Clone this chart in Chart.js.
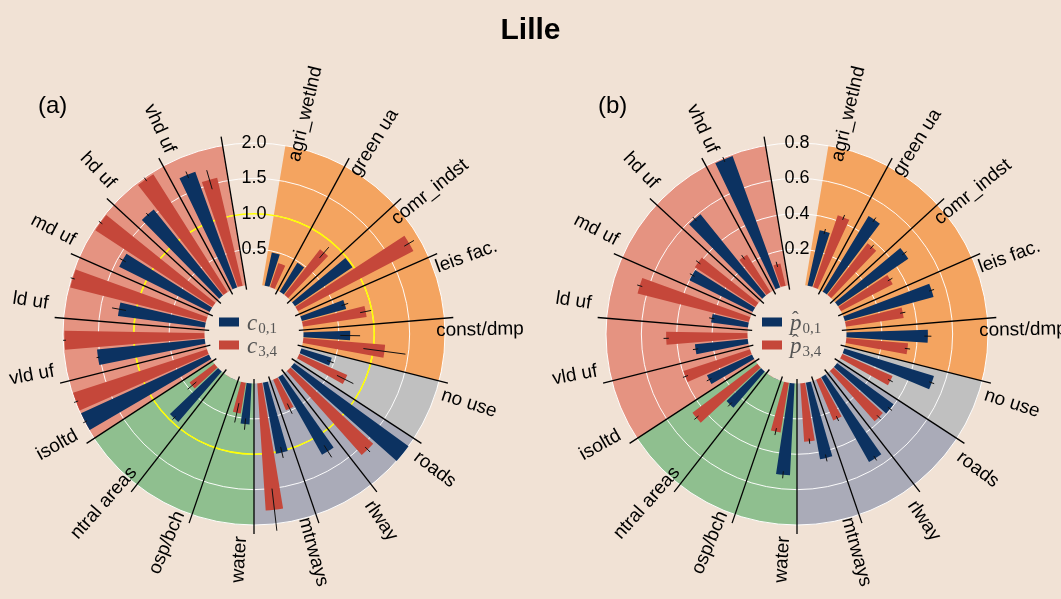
<!DOCTYPE html>
<html>
<head>
<meta charset="utf-8">
<script src="https://cdn.jsdelivr.net/npm/chart.js@4.4.1/dist/chart.umd.min.js"></script>
<style>
  html, body { margin: 0; padding: 0; background: #f1e2d5; }
  #wrap { position: relative; width: 1061px; height: 599px; overflow: hidden;
          font-family: "Liberation Sans", Arial, sans-serif; }
  #wrap canvas { position: absolute; left: 0; top: 0; }
  #title { position: absolute; left: 0; width: 1061px; top: 12px; text-align: center;
           font-weight: bold; font-size: 30px; }
  .tag { position: absolute; top: 91px; font-size: 24px; }
</style>
</head>
<body>
<div id="wrap">
  <canvas id="chartA" width="1061" height="599"></canvas>
  <canvas id="chartB" width="1061" height="599"></canvas>
  <div id="title">Lille</div>
  <div class="tag" style="left:38px">(a)</div>
  <div class="tag" style="left:598px">(b)</div>
</div>
<script>
// categories, clockwise from the top
const categories = ['agri_wetlnd', 'green ua', 'comr_indst', 'leis fac.', 'const/dmp', 'no use',
  'roads', 'rlway', 'mtrways', 'water', 'osp/bch', 'ntral areas', 'isoltd', 'vld uf',
  'ld uf', 'md uf', 'hd uf', 'vhd uf'];
const sectorGroups = ['other', 'other', 'other', 'other', 'other', 'nouse',
  'transport', 'transport', 'transport', 'natural', 'natural', 'natural',
  'urban', 'urban', 'urban', 'urban', 'urban', 'urban'];

// panel (a)
const c01 = [0.48, 0.48, 0.98, 0.65, 0.66, 0.45, 2.0, 1.26, 1.02, 0.58, 0, 0.94, 1.99, 1.53, 1.24, 1.43, 1.56, 1.74];
const c34 = [0.36, 0.82, 1.84, 0.91, 1.16, 0.74, 1.59, 0.47, 1.80, 0.44, 0, 0.44, 1.99, 1.98, 1.98, 1.98, 1.97, 1.57];
const c01Err = [0, 0, 0, 0.05, 0.14, 0.05, 0, 0.1, 0.08, 0.08, 0, 0.03, 0.03, 0.02, 0.1, 0.05, 0.03, 0.05];
const c34Err = [0, 0.1, 0.08, 0.08, 0.3, 0.13, 0.05, 0.08, 0.3, 0.14, 0, 0.08, 0.03, 0.02, 0.03, 0.03, 0.03, 0.14];
const ticksA = ['0.5', '1.0', '1.5', '2.0'];

// panel (b)
const p01 = [0.32, 0.50, 0.48, 0.52, 0.46, 0.53, 0.395, 0.55, 0.44, 0.52, 0, 0.27, 0.28, 0.30, 0.21, 0.40, 0.59, 0.79];
const p34 = [0.43, 0.37, 0.33, 0.33, 0.35, 0.31, 0.38, 0.25, 0.33, 0.285, 0, 0.46, 0.395, 0.46, 0.65, 0.41, 0.25, 0.13];
const p01Err = [0.015, 0.015, 0.015, 0.015, 0.02, 0.015, 0.015, 0.015, 0.02, 0.02, 0, 0.015, 0.015, 0.015, 0.015, 0.015, 0.015, 0.015];
const p34Err = [0.015, 0.015, 0.015, 0.015, 0.015, 0.015, 0.015, 0.015, 0.015, 0.02, 0, 0.015, 0.015, 0.015, 0.015, 0.015, 0.015, 0.015];
const ticksB = ['0.2', '0.4', '0.6', '0.8'];

const BLUE = '#0c3261';
const RED = '#c5473a';
const BG = '#f1e2d5';
const groupColors = {
  other: '#f4a460',
  nouse: '#c0c0c0',
  transport: '#aaabb8',
  natural: '#8fbf8f',
  urban: '#e59381'
};
const NONE = 'rgba(0,0,0,0)';
const S = 360 / (categories.length + 1);   // one empty slot at the top
const deg = Math.PI / 180;
const FONT = '"Liberation Sans", Arial, sans-serif';

// each slot -> [gap, bar, gap] arcs with their own angle
function barArcs(values, start, width, rMin) {
  const d = { data: [rMin], angles: [S / 2], show: [false] };
  values.forEach(v => {
    d.data.push(rMin, v, rMin);
    d.angles.push(start * S, width * S, (1 - start - width) * S);
    d.show.push(false, true, false);
  });
  d.data.push(rMin); d.angles.push(S / 2); d.show.push(false);
  return d;
}

function panel(canvasId, cx, rMin, rMax, s01, s34, e01, e34, ticks, legend, refValue) {
  const blue = barArcs(s01, 0.15, 0.30, rMin);
  const red = barArcs(s34, 0.50, 0.30, rMin);
  const bg = { data: [rMin], angles: [S / 2], colors: [NONE] };
  categories.forEach((c, i) => {
    bg.data.push(rMax); bg.angles.push(S); bg.colors.push(groupColors[sectorGroups[i]]);
  });
  bg.data.push(rMin); bg.angles.push(S / 2); bg.colors.push(NONE);

  const decor = {
    id: 'decor',
    afterDatasetDraw(chart, args) {
      if (args.index !== 2) return;
      const sc = chart.scales.r, ctx = chart.ctx;
      ctx.save();
      ctx.strokeStyle = 'rgba(255,255,255,0.95)';
      ctx.lineWidth = 1;
      ticks.forEach(t => {
        ctx.beginPath();
        ctx.arc(sc.xCenter, sc.yCenter, sc.getDistanceFromCenterForValue(parseFloat(t)), 0, 2 * Math.PI);
        ctx.stroke();
      });
      if (refValue !== null) {
        ctx.strokeStyle = '#ffff00';
        ctx.lineWidth = 1.6;
        ctx.beginPath();
        ctx.arc(sc.xCenter, sc.yCenter, sc.getDistanceFromCenterForValue(refValue), 0, 2 * Math.PI);
        ctx.stroke();
      }
      ctx.restore();
    },
    afterDatasetsDraw(chart) {
      const sc = chart.scales.r, ctx = chart.ctx;
      const xc = sc.xCenter, yc = sc.yCenter;
      const pt = (phi, r) => [xc + r * Math.cos((phi - 90) * deg), yc + r * Math.sin((phi - 90) * deg)];
      ctx.save();
      // hole
      ctx.fillStyle = BG;
      ctx.beginPath();
      ctx.arc(xc, yc, sc.getDistanceFromCenterForValue(0), 0, 2 * Math.PI);
      ctx.fill();

      // error bars
      ctx.strokeStyle = '#111';
      ctx.lineWidth = 1;
      const errs = (vals, err, offset) => vals.forEach((v, i) => {
        if (!err[i]) return;
        const phi = S / 2 + i * S + offset * S;
        const a = pt(phi, sc.getDistanceFromCenterForValue(Math.max(0, v - err[i])));
        const b = pt(phi, sc.getDistanceFromCenterForValue(v + err[i]));
        ctx.beginPath(); ctx.moveTo(a[0], a[1]); ctx.lineTo(b[0], b[1]); ctx.stroke();
      });
      errs(s01, e01, 0.30);
      errs(s34, e34, 0.65);

      // category lines
      ctx.strokeStyle = '#000';
      ctx.lineWidth = 1.3;
      const lines = [-S / 2];
      for (let i = 1; i < categories.length; i++) lines.push(S / 2 + i * S);
      lines.forEach(phi => {
        const a = pt(phi, 45), b = pt(phi, 200);
        ctx.beginPath(); ctx.moveTo(a[0], a[1]); ctx.lineTo(b[0], b[1]); ctx.stroke();
      });

      // category labels
      ctx.fillStyle = '#000';
      ctx.font = '19px ' + FONT;
      ctx.textAlign = 'center';
      ctx.textBaseline = 'middle';
      categories.forEach((c, i) => {
        const phi = S / 2 + i * S + 3.7;
        const [x, y] = pt(phi, 226);
        let rot = (phi - 90) * deg;
        if (Math.cos(rot) < 0) rot += Math.PI;
        ctx.save(); ctx.translate(x, y); ctx.rotate(rot);
        ctx.fillText(c, 0, 0);
        ctx.restore();
      });

      // radial tick labels
      ctx.font = '18px ' + FONT;
      ticks.forEach(t => {
        ctx.fillText(t, xc, yc - sc.getDistanceFromCenterForValue(parseFloat(t)));
      });

      // legend in the hole
      [[BLUE, legend[0], -16.5], [RED, legend[1], 6.5]].forEach(([col, lab, dy]) => {
        ctx.fillStyle = col;
        ctx.fillRect(xc - 35, yc + dy, 20, 9);
        ctx.fillStyle = '#555';
        ctx.textAlign = 'left';
        ctx.textBaseline = 'alphabetic';
        ctx.font = 'italic 23px "Liberation Serif", serif';
        const bx = xc - 7, by = yc + dy + 12.5;
        ctx.fillText(lab.sym, bx, by);
        const w = ctx.measureText(lab.sym).width;
        if (lab.hat) {
          ctx.font = '20px "Liberation Serif", serif';
          ctx.fillText('\u02C6', bx + 2, by - 4);
        }
        ctx.font = '15px "Liberation Serif", serif';
        ctx.fillText(lab.sub, bx + w + 1, by + 3);
      });
      ctx.restore();
    }
  };

  const left = cx - 191;
  return new Chart(document.getElementById(canvasId), {
    type: 'polarArea',
    data: {
      datasets: [
        { data: blue.data, angle: c => blue.angles[c.dataIndex],
          backgroundColor: c => blue.show[c.dataIndex] ? BLUE : NONE, borderWidth: 0, order: 0 },
        { data: red.data, angle: c => red.angles[c.dataIndex],
          backgroundColor: c => red.show[c.dataIndex] ? RED : NONE, borderWidth: 0, order: 1 },
        { data: bg.data, angle: c => bg.angles[c.dataIndex],
          backgroundColor: c => bg.colors[c.dataIndex], borderWidth: 0, order: 2 }
      ]
    },
    options: {
      responsive: false,
      animation: false,
      events: [],
      layout: { padding: { left: left, right: 1061 - left - 382, top: 143, bottom: 74 } },
      plugins: { legend: { display: false }, tooltip: { enabled: false } },
      scales: {
        r: {
          min: rMin, max: rMax, startAngle: 0,
          ticks: { display: false },
          grid: { display: false },
          angleLines: { display: false },
          pointLabels: { display: false }
        }
      }
    },
    plugins: [decor]
  });
}

panel('chartA', 254, -0.7, 2.0, c01, c34, c01Err, c34Err, ticksA,
  [{ sym: 'c', sub: '0,1' }, { sym: 'c', sub: '3,4' }], 1.0);
panel('chartB', 797, -0.28, 0.8, p01, p34, p01Err, p34Err, ticksB,
  [{ sym: 'p', sub: '0,1', hat: true }, { sym: 'p', sub: '3,4', hat: true }], null);
</script>
</body>
</html>
